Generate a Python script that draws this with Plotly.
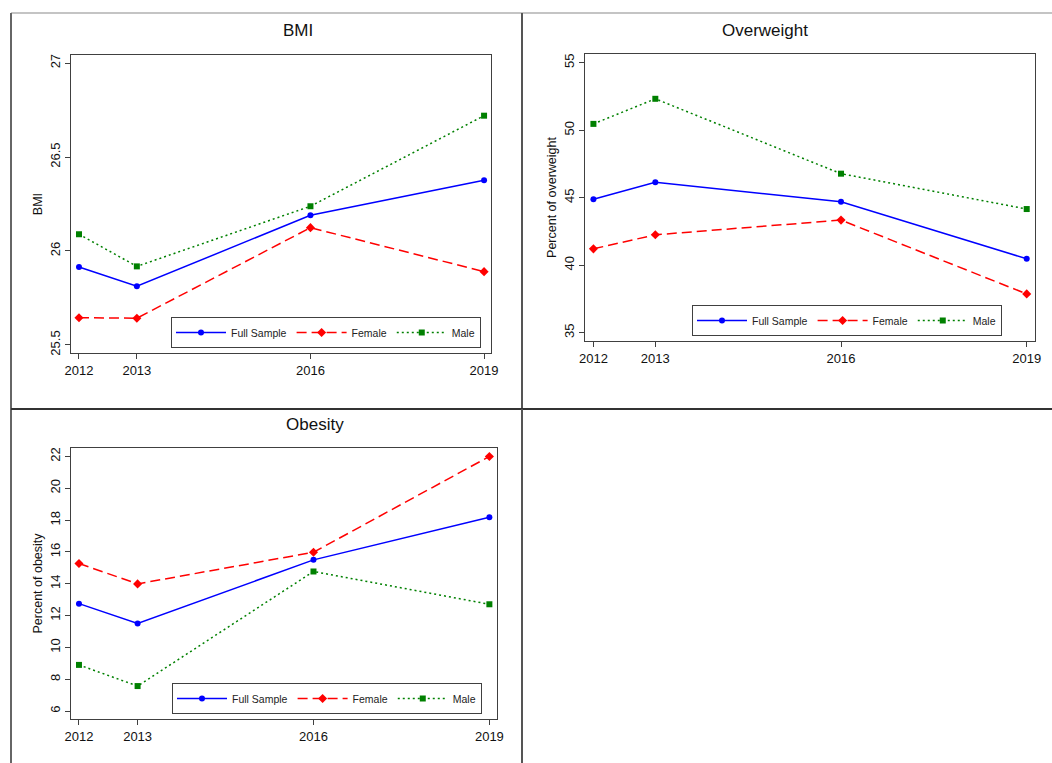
"""Trends in BMI, overweight and obesity by sex, 2012-2019 (Stata-style panels)."""

import plotly.graph_objects as go

W, H = 1052, 763

years = [2012, 2013, 2016, 2019]
series_names = ["Full Sample", "Female", "Male"]

bmi_full = [25.915, 25.812, 26.19, 26.376]
bmi_female = [25.645, 25.642, 26.124, 25.89]
bmi_male = [26.089, 25.918, 26.238, 26.72]

overweight_full = [44.88, 46.14, 44.70, 40.47]
overweight_female = [41.21, 42.25, 43.34, 37.87]
overweight_male = [50.47, 52.33, 46.78, 44.16]

obesity_full = [12.75, 11.50, 15.50, 18.18]
obesity_female = [15.27, 13.99, 15.98, 22.00]
obesity_male = [8.90, 7.57, 14.77, 12.71]

bmi_ticks = [25.5, 26, 26.5, 27]
overweight_ticks = [35, 40, 45, 50, 55]
obesity_ticks = [6, 8, 10, 12, 14, 16, 18, 20, 22]


def px(x):
    return x / W


def py(y):
    return 1 - y / H


styles = [
    {"color": "#0000ff", "dash": "solid", "symbol": "circle", "size": 6},
    {"color": "#ff0000", "dash": "10px,5px", "symbol": "diamond", "size": 7},
    {"color": "#008000", "dash": "2px,3px", "symbol": "square", "size": 6},
]

# panel: (title, y title, data, ticks, y range, x range, plot box px, legend left/bottom px)
panels = [
    ("BMI", "BMI", [bmi_full, bmi_female, bmi_male], bmi_ticks,
     [25.457, 27.043], [2011.862, 2019.12], (71, 491, 55, 353), (171, 348)),
    ("Overweight", "Percent of overweight",
     [overweight_full, overweight_female, overweight_male], overweight_ticks,
     [34.38, 55.65], [2011.864, 2019.134], (585, 1035, 54, 341), (692, 336)),
    ("Obesity", "Percent of obesity",
     [obesity_full, obesity_female, obesity_male], obesity_ticks,
     [5.5, 22.53], [2011.864, 2019.13], (71, 497, 448, 719), (172, 714)),
]

fig = go.Figure()
layout = {}
annotations = []
font = "Liberation Sans, Arial, sans-serif"

for i, (title, ytitle, data, ticks, yrange, xrange, box, leg) in enumerate(panels):
    n = "" if i == 0 else str(i + 1)
    legend_name = "legend" + n
    x0, x1, y0, y1 = box
    for name, values, st in zip(series_names, data, styles):
        fig.add_trace(
            go.Scatter(
                x=years,
                y=values,
                name=name,
                mode="lines+markers",
                line={"color": st["color"], "dash": st["dash"], "width": 1.5},
                marker={"color": st["color"], "symbol": st["symbol"], "size": st["size"]},
                xaxis="x" + n,
                yaxis="y" + n,
                legend=legend_name,
                legendgroup=f"{legend_name}-{name}",
            )
        )

    axis_common = {
        "showgrid": False,
        "zeroline": False,
        "showline": True,
        "linecolor": "#404040",
        "linewidth": 1,
        "mirror": True,
        "ticks": "outside",
        "ticklen": 5,
        "tickcolor": "#404040",
        "automargin": False,
        "tickfont": {"size": 13, "color": "#111", "family": font},
    }
    layout["xaxis" + n] = {
        **axis_common,
        "domain": [px(x0), px(x1)],
        "range": xrange,
        "tickvals": years,
        "anchor": "y" + n,
    }
    layout["yaxis" + n] = {
        **axis_common,
        "domain": [py(y1), py(y0)],
        "range": yrange,
        "tickvals": ticks,
        "tickangle": -90,
        "anchor": "x" + n,
        "title": {"text": ytitle, "font": {"size": 12.5, "color": "#111", "family": font},
                  "standoff": 2},
    }
    layout[legend_name] = {
        "orientation": "h",
        "x": px(leg[0]),
        "y": py(leg[1]),
        "xanchor": "left",
        "yanchor": "bottom",
        "bordercolor": "#404040",
        "borderwidth": 1,
        "bgcolor": "white",
        "itemwidth": 50,
        "tracegroupgap": 14,
        "font": {"size": 10.5, "color": "#222", "family": font},
        "itemclick": False,
    }
    annotations.append(
        {
            "text": title,
            "x": px((x0 + x1) / 2),
            "y": py(y0 - 24),
            "xref": "paper",
            "yref": "paper",
            "showarrow": False,
            "font": {"size": 17, "color": "#111", "family": font},
            "yanchor": "middle",
        }
    )

frame = [
    (11, 13, W, 13, "#c4c4c4", 2),
    (11, 13, 11, H, "#666666", 2),
    (522, 13, 522, 409, "#555555", 2),
    (11, 409, W, 409, "#333333", 2),
    (522, 409, 522, H, "#555555", 2),
]
shapes = [
    {
        "type": "line", "xref": "paper", "yref": "paper",
        "x0": px(a), "y0": py(b), "x1": px(c), "y1": py(d),
        "line": {"color": col, "width": w},
    }
    for a, b, c, d, col, w in frame
]

fig.update_layout(
    **layout,
    annotations=annotations,
    shapes=shapes,
    width=W,
    height=H,
    margin={"l": 0, "r": 0, "t": 0, "b": 0, "autoexpand": False},
    paper_bgcolor="white",
    plot_bgcolor="white",
    showlegend=True,
    font={"family": font},
)

fig.write_html(
    "out.html",
    config={"displayModeBar": False},
    post_script="document.body.style.margin = '0'; document.body.style.overflow = 'hidden';",
)
